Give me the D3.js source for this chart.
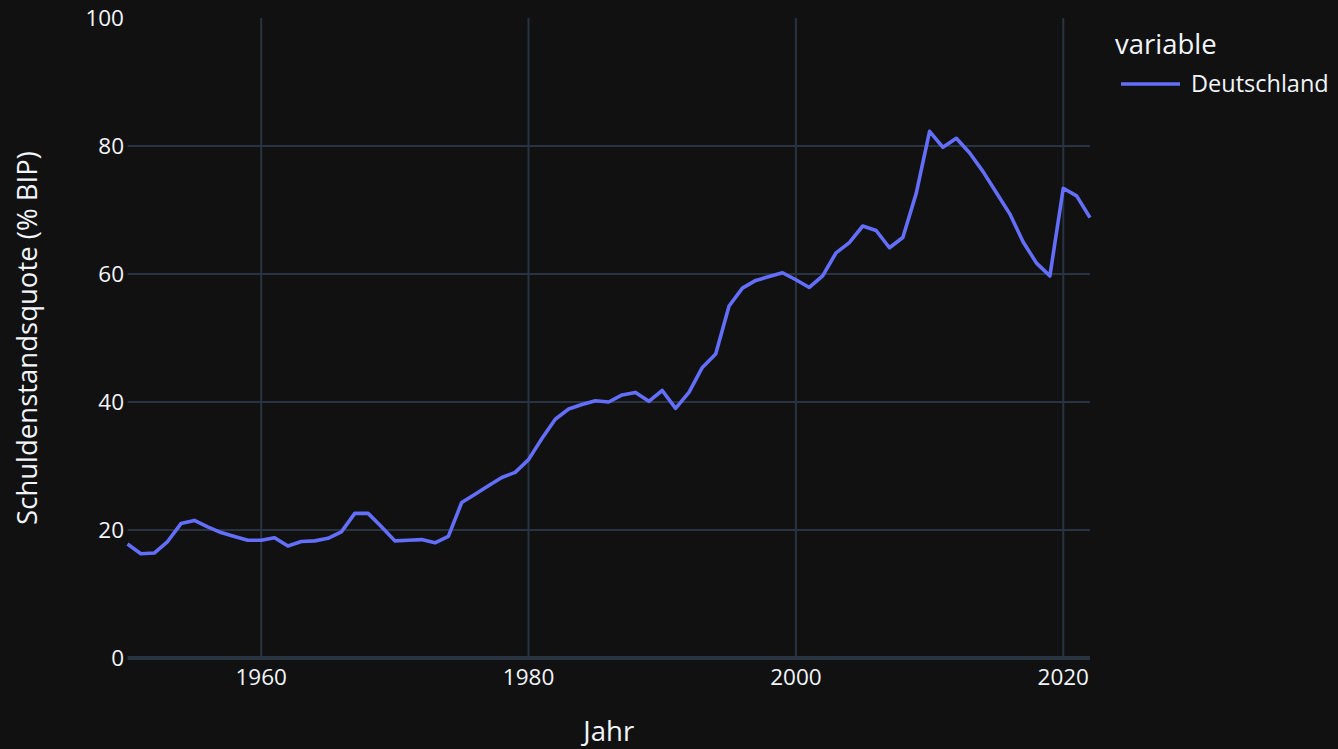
<!DOCTYPE html>
<html>
<head>
<meta charset="utf-8">
<script src="https://cdn.jsdelivr.net/npm/d3@7"></script>
<style>
  html, body { margin: 0; padding: 0; background: #111111; }
  svg { display: block; font-family: "Open Sans", sans-serif; }
</style>
</head>
<body>
<svg id="chart" width="1338" height="749"></svg>
<script>
// Schuldenstandsquote Deutschland, 1950-2022
var years = d3.range(1950, 2023);
var values = [
  17.8, 16.3, 16.4, 18.2, 21.0, 21.5, 20.5, 19.6, 19.0, 18.4,
  18.4, 18.8, 17.5, 18.2, 18.3, 18.7, 19.7, 22.6, 22.6, 20.5,
  18.3, 18.4, 18.5, 18.0, 19.0, 24.3, 25.6, 26.9, 28.2, 29.0,
  31.0, 34.3, 37.3, 38.9, 39.6, 40.2, 40.0, 41.1, 41.5, 40.1,
  41.8, 39.0, 41.5, 45.4, 47.5, 55.0, 57.8, 59.0, 59.6, 60.2,
  59.1, 57.9, 59.7, 63.3, 64.9, 67.5, 66.8, 64.1, 65.7, 72.6,
  82.3, 79.8, 81.2, 78.9, 76.0, 72.7, 69.4, 65.0, 61.7, 59.7,
  73.4, 72.2, 68.8
];
var seriesName = 'Deutschland';
var xTicks = [1960, 1980, 2000, 2020];
var yTicks = [0, 20, 40, 60, 80, 100];

var bg = '#111111', grid = '#283442', textColor = '#f2f5fa', lineColor = '#636efa';

var svg = d3.select('#chart');
// plot area bounds (plotTop, not "top": window.top is read-only)
var plotLeft = 127.5, plotRight = 1090, plotTop = 18, plotBottom = 658;

var x = d3.scaleLinear().domain([1950, 2022]).range([plotLeft, plotRight]);
var y = d3.scaleLinear().domain([0, 100]).range([plotBottom, plotTop]);

svg.append('rect').attr('width', 1338).attr('height', 749).attr('fill', bg);

// gridlines
svg.append('g').selectAll('line').data(xTicks).enter().append('line')
  .attr('x1', d => x(d)).attr('x2', d => x(d))
  .attr('y1', plotTop).attr('y2', plotBottom)
  .attr('stroke', grid).attr('stroke-width', 2);

svg.append('g').selectAll('line').data(yTicks.filter(d => d > 0 && d < 100)).enter().append('line')
  .attr('x1', plotLeft).attr('x2', plotRight)
  .attr('y1', d => y(d)).attr('y2', d => y(d))
  .attr('stroke', grid).attr('stroke-width', 2);

// zero line
svg.append('line')
  .attr('x1', plotLeft).attr('x2', plotRight)
  .attr('y1', y(0)).attr('y2', y(0))
  .attr('stroke', grid).attr('stroke-width', 4);

// tick labels
svg.append('g').selectAll('text').data(xTicks).enter().append('text')
  .attr('x', d => x(d)).attr('y', 685)
  .attr('text-anchor', 'middle')
  .attr('fill', textColor).attr('font-size', 22.5)
  .text(d => d);

svg.append('g').selectAll('text').data(yTicks).enter().append('text')
  .attr('x', 124).attr('y', d => y(d))
  .attr('dy', '0.35em')
  .attr('text-anchor', 'end')
  .attr('fill', textColor).attr('font-size', 22.5)
  .text(d => d);

// line
var line = d3.line()
  .x((d, i) => x(years[i]))
  .y(d => y(d));

svg.append('path')
  .datum(values)
  .attr('d', line)
  .attr('fill', 'none')
  .attr('stroke', lineColor)
  .attr('stroke-width', 3.6)
  .attr('stroke-linejoin', 'round');

// axis titles
svg.append('text')
  .attr('x', (plotLeft + plotRight) / 2).attr('y', 741)
  .attr('text-anchor', 'middle')
  .attr('fill', textColor).attr('font-size', 27.5)
  .text('Jahr');

svg.append('text')
  .attr('transform', 'translate(37,' + ((plotTop + plotBottom) / 2) + ') rotate(-90)')
  .attr('text-anchor', 'middle')
  .attr('fill', textColor).attr('font-size', 27.5)
  .text('Schuldenstandsquote (% BIP)');

// legend
svg.append('text')
  .attr('x', 1115).attr('y', 44).attr('dy', '0.35em')
  .attr('fill', textColor).attr('font-size', 27.5)
  .text('variable');

svg.append('line')
  .attr('x1', 1121).attr('x2', 1180)
  .attr('y1', 84).attr('y2', 84)
  .attr('stroke', lineColor).attr('stroke-width', 3.6);

svg.append('text')
  .attr('x', 1191).attr('y', 84).attr('dy', '0.35em')
  .attr('fill', textColor).attr('font-size', 23.5)
  .text(seriesName);
</script>
</body>
</html>
